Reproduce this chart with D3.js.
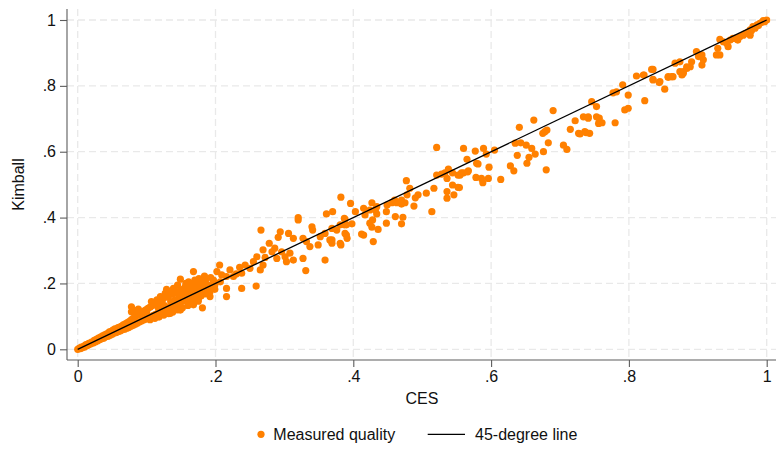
<!DOCTYPE html>
<html>
<head>
<meta charset="utf-8">
<script src="https://cdn.jsdelivr.net/npm/d3@7"></script>
<style>
  html, body { margin: 0; padding: 0; background: #fff; }
  svg { display: block; font-family: "Liberation Sans", Arial, Helvetica, sans-serif; }
</style>
</head>
<body>
<svg id="chart" width="776" height="450"></svg>
<script>
// Axis ticks and labels
const xTicks = [0, 0.2, 0.4, 0.6, 0.8, 1];
const xTickLabels = ["0", ".2", ".4", ".6", ".8", "1"];
const yTicks = [0, 0.2, 0.4, 0.6, 0.8, 1];
const yTickLabels = ["0", ".2", ".4", ".6", ".8", "1"];
const xTitle = "CES";
const yTitle = "Kimball";
const legendLabels = ["Measured quality", "45-degree line"];

// Reference line endpoints (CES = Kimball)
const diagonal = [0, 1];

// Measured quality: [CES, Kimball] pairs, low range
const measuredLow = [
  [0.000,0.000],[0.002,0.003],[0.004,0.002],[0.005,0.007],[0.007,0.005],[0.009,0.010],[0.010,0.007],
  [0.012,0.014],[0.013,0.011],[0.015,0.013],[0.016,0.018],[0.018,0.015],[0.020,0.022],[0.021,0.018],
  [0.023,0.020],[0.024,0.027],[0.026,0.023],[0.027,0.030],[0.029,0.026],[0.030,0.034],[0.032,0.029],
  [0.033,0.037],[0.035,0.032],[0.036,0.041],[0.038,0.034],[0.039,0.044],[0.041,0.038],[0.042,0.047],
  [0.044,0.040],[0.045,0.050],[0.047,0.043],[0.048,0.054],[0.050,0.046],[0.051,0.058],[0.053,0.049],
  [0.054,0.062],[0.056,0.051],[0.057,0.060],[0.059,0.054],[0.060,0.067],[0.062,0.056],[0.063,0.070],
  [0.065,0.059],[0.066,0.074],[0.068,0.061],[0.069,0.077],[0.071,0.064],[0.072,0.081],[0.074,0.066],
  [0.075,0.085],[0.077,0.070],[0.078,0.090],[0.080,0.072],[0.081,0.095],[0.083,0.075],[0.084,0.100],
  [0.086,0.078],[0.087,0.104],[0.089,0.082],[0.090,0.108],[0.092,0.085],[0.093,0.112],[0.095,0.088],
  [0.096,0.116],[0.098,0.091],[0.099,0.120],[0.101,0.094],[0.102,0.124],[0.104,0.097],[0.105,0.128],
  [0.107,0.100],[0.108,0.132],[0.110,0.103],[0.111,0.136],[0.113,0.106],[0.114,0.140],[0.116,0.109],
  [0.117,0.126],[0.119,0.112],[0.120,0.145],[0.122,0.115],[0.123,0.150],[0.125,0.118],[0.126,0.133],
  [0.128,0.121],[0.129,0.158],[0.131,0.124],[0.132,0.162],[0.134,0.128],[0.135,0.145],[0.137,0.131],
  [0.138,0.168],[0.140,0.134],[0.141,0.150],[0.143,0.138],[0.144,0.175],[0.146,0.141],[0.147,0.160],
  [0.149,0.130],[0.150,0.180],[0.152,0.146],[0.153,0.165],[0.155,0.150],[0.156,0.190],[0.158,0.154],
  [0.159,0.172],[0.161,0.140],[0.162,0.195],[0.164,0.160],[0.165,0.178],[0.167,0.150],[0.168,0.200],
  [0.170,0.165],[0.171,0.185],[0.173,0.158],[0.174,0.192],[0.176,0.170],[0.177,0.205],[0.179,0.162],
  [0.180,0.188],[0.182,0.175],[0.183,0.198],[0.185,0.168],[0.186,0.212],[0.188,0.180],[0.190,0.195],
  [0.192,0.175],[0.193,0.218],[0.195,0.188],[0.197,0.205],[0.199,0.182],
  [0.078,0.129],[0.078,0.114],[0.082,0.118],[0.085,0.112],[0.088,0.122],[0.105,0.090],[0.112,0.094],
  [0.118,0.098],[0.125,0.104],[0.132,0.108],[0.138,0.113],[0.145,0.120],[0.152,0.126],[0.160,0.133],
  [0.168,0.140],[0.175,0.146],[0.107,0.145],[0.115,0.150],[0.120,0.160],[0.122,0.119],[0.134,0.109],
  [0.129,0.182],[0.141,0.175],[0.153,0.182],[0.182,0.190],[0.192,0.160],[0.181,0.126],[0.175,0.152],
  [0.168,0.135],[0.149,0.119],[0.146,0.140],[0.149,0.213],[0.161,0.205],[0.178,0.205],[0.168,0.236],
  [0.135,0.170],[0.139,0.185],[0.145,0.195],[0.157,0.200],[0.163,0.185],[0.170,0.210],[0.176,0.215],
  [0.184,0.222],[0.155,0.172],[0.127,0.170],[0.119,0.135],[0.100,0.110],[0.094,0.101],[0.070,0.072],
  [0.064,0.066],[0.058,0.065],[0.046,0.053],[0.040,0.041],[0.034,0.035]
];

// Measured quality: middle range
const measuredMid = [
  [0.361,0.411],[0.387,0.398],[0.320,0.393],[0.320,0.400],[0.390,0.378],[0.369,0.367],[0.359,0.352],
  [0.340,0.372],[0.341,0.362],[0.352,0.342],[0.390,0.347],[0.381,0.322],[0.366,0.332],[0.369,0.322],
  [0.349,0.317],[0.337,0.312],[0.327,0.337],[0.332,0.327],[0.306,0.352],[0.313,0.337],[0.294,0.357],
  [0.291,0.340],[0.266,0.362],[0.278,0.322],[0.269,0.302],[0.282,0.296],[0.286,0.307],[0.296,0.296],
  [0.301,0.281],[0.308,0.292],[0.313,0.271],[0.303,0.266],[0.289,0.276],[0.327,0.276],[0.359,0.271],
  [0.331,0.239],[0.272,0.279],[0.269,0.256],[0.260,0.281],[0.255,0.266],[0.265,0.241],[0.259,0.192],
  [0.243,0.256],[0.250,0.246],[0.235,0.249],[0.238,0.231],[0.230,0.229],[0.221,0.241],[0.226,0.221],
  [0.216,0.221],[0.206,0.256],[0.202,0.236],[0.209,0.226],[0.197,0.210],[0.207,0.205],[0.199,0.195],
  [0.216,0.185],[0.238,0.185],[0.187,0.195],[0.182,0.205],[0.190,0.180],[0.216,0.160],
  [0.521,0.613],[0.579,0.565],[0.567,0.542],[0.557,0.536],[0.552,0.529],[0.538,0.547],[0.533,0.536],
  [0.528,0.532],[0.521,0.529],[0.536,0.519],[0.552,0.492],[0.536,0.479],[0.536,0.459],[0.517,0.489],
  [0.506,0.474],[0.494,0.469],[0.490,0.460],[0.488,0.435],[0.477,0.512],[0.482,0.489],[0.478,0.469],
  [0.470,0.453],[0.463,0.445],[0.470,0.441],[0.475,0.445],[0.460,0.453],[0.456,0.445],[0.472,0.401],
  [0.470,0.381],[0.461,0.403],[0.514,0.418],[0.449,0.438],[0.448,0.418],[0.448,0.383],[0.434,0.433],
  [0.434,0.411],[0.432,0.423],[0.427,0.445],[0.424,0.423],[0.428,0.393],[0.424,0.383],[0.436,0.364],
  [0.427,0.371],[0.429,0.327],[0.417,0.408],[0.415,0.428],[0.403,0.418],[0.396,0.443],[0.382,0.462],
  [0.370,0.418],[0.388,0.395],[0.398,0.381],[0.387,0.378],[0.381,0.378],[0.376,0.362],[0.388,0.352],
  [0.391,0.337],[0.412,0.350],[0.415,0.347],[0.369,0.332],[0.382,0.317]
];

// Measured quality: upper range
const measuredHigh = [
  [0.756,0.686],[0.741,0.702],[0.722,0.694],[0.715,0.668],[0.727,0.656],[0.738,0.658],[0.690,0.725],
  [0.662,0.696],[0.678,0.661],[0.681,0.666],[0.675,0.656],[0.641,0.674],[0.683,0.627],[0.705,0.620],
  [0.710,0.607],[0.676,0.600],[0.664,0.593],[0.659,0.610],[0.651,0.620],[0.643,0.627],[0.635,0.626],
  [0.655,0.583],[0.652,0.565],[0.638,0.589],[0.680,0.545],[0.628,0.557],[0.633,0.542],[0.614,0.516],
  [0.605,0.605],[0.597,0.553],[0.589,0.610],[0.593,0.593],[0.577,0.602],[0.560,0.610],[0.565,0.577],
  [0.581,0.563],[0.566,0.539],[0.555,0.529],[0.560,0.536],[0.578,0.522],[0.586,0.519],[0.596,0.519],
  [0.588,0.506],[0.544,0.536],[0.544,0.499],[0.554,0.491],[0.546,0.469],
  [0.901,0.889],[0.884,0.858],[0.879,0.838],[0.874,0.843],[0.862,0.828],[0.857,0.828],[0.844,0.810],
  [0.835,0.820],[0.833,0.850],[0.821,0.833],[0.811,0.830],[0.791,0.803],[0.799,0.772],[0.782,0.782],
  [0.777,0.779],[0.746,0.752],[0.799,0.732],[0.794,0.727],[0.753,0.737],[0.753,0.706],[0.757,0.702],
  [0.761,0.688],[0.741,0.706],[0.734,0.706],[0.780,0.688],[0.736,0.661],[0.743,0.656],[0.729,0.654],
  [1.000,1.000],[0.995,0.998],[0.990,0.990],[0.986,0.985],[0.980,0.980],[0.976,0.970],[0.971,0.960],
  [0.976,0.954],[0.966,0.954],[0.961,0.949],[0.958,0.939],[0.947,0.939],[0.942,0.929],[0.937,0.934],
  [0.932,0.941],[0.944,0.919],[0.929,0.914],[0.927,0.894],[0.932,0.894],[0.906,0.894],[0.898,0.904],
  [0.908,0.879],[0.906,0.863],[0.891,0.873],[0.889,0.858],[0.874,0.873],[0.867,0.869],[0.884,0.853],
  [0.879,0.843],[0.877,0.833],[0.864,0.828],[0.857,0.826],[0.835,0.850],[0.835,0.818],[0.845,0.813],
  [0.822,0.833],[0.852,0.790],[0.823,0.755],
  [0.997,0.995],[0.993,0.993],[0.988,0.983],[0.983,0.975],[0.978,0.968],[0.973,0.963],[0.968,0.958],
  [0.955,0.945],[0.951,0.944]
];

const measured = measuredLow.concat(measuredMid, measuredHigh);

// Layout
const W = 776, H = 450;
const plot = { left: 67, top: 9, right: 776, bottom: 360 };
const orange = "#ff8000";
const axisGrey = "#5c5c5c";
const gridGrey = "#e9e9e9";
const fontSize = 16;

const svg = d3.select("#chart");
svg.append("rect").attr("width", W).attr("height", H).attr("fill", "#fff");

const x = d3.scaleLinear().domain([0, 1]).range([77.7, 766.7]);
const y = d3.scaleLinear().domain([0, 1]).range([349.3, 20]);

// Dashed grid
const grid = svg.append("g").attr("stroke", gridGrey).attr("stroke-width", 1.3)
  .attr("stroke-dasharray", "7,4");
grid.selectAll("line.h").data(yTicks).join("line")
  .attr("x1", plot.left).attr("x2", plot.right)
  .attr("y1", d => y(d)).attr("y2", d => y(d));
grid.selectAll("line.v").data(xTicks).join("line")
  .attr("x1", d => x(d)).attr("x2", d => x(d))
  .attr("y1", plot.top).attr("y2", plot.bottom);

// Scatter points
svg.append("g").selectAll("circle").data(measured).join("circle")
  .attr("cx", d => x(d[0])).attr("cy", d => y(d[1]))
  .attr("r", 3.6).attr("fill", orange);

// 45-degree line
svg.append("line")
  .attr("x1", x(diagonal[0])).attr("y1", y(diagonal[0]))
  .attr("x2", x(diagonal[1])).attr("y2", y(diagonal[1]))
  .attr("stroke", "#000").attr("stroke-width", 1.3);

// Axes
const yAxis = d3.axisLeft(y).tickValues(yTicks)
  .tickFormat((d, i) => yTickLabels[i]).tickSize(7).tickPadding(4);
const xAxis = d3.axisBottom(x).tickValues(xTicks)
  .tickFormat((d, i) => xTickLabels[i]).tickSize(7).tickPadding(4);

const gy = svg.append("g").attr("transform", `translate(${plot.left},0)`).call(yAxis);
const gx = svg.append("g").attr("transform", `translate(0,${plot.bottom})`).call(xAxis);
[gy, gx].forEach(g => {
  g.select(".domain").remove();
  g.selectAll(".tick line").attr("stroke", axisGrey).attr("stroke-width", 1.1);
  g.selectAll(".tick text").attr("font-size", fontSize).attr("fill", "#111")
    .attr("font-family", "'Liberation Sans', Arial, sans-serif");
});

svg.append("line").attr("x1", plot.left).attr("x2", plot.left)
  .attr("y1", plot.top).attr("y2", plot.bottom)
  .attr("stroke", axisGrey).attr("stroke-width", 1.1);
svg.append("line").attr("x1", plot.left).attr("x2", plot.right)
  .attr("y1", plot.bottom).attr("y2", plot.bottom)
  .attr("stroke", axisGrey).attr("stroke-width", 1.1);

// Axis titles
svg.append("text").attr("x", (plot.left + plot.right) / 2 + 0.5).attr("y", 404)
  .attr("text-anchor", "middle").attr("font-size", fontSize).attr("fill", "#111").text(xTitle);
svg.append("text").attr("transform", `translate(24,${(plot.top + plot.bottom) / 2}) rotate(-90)`)
  .attr("text-anchor", "middle").attr("font-size", fontSize).attr("fill", "#111").text(yTitle);

// Legend
const legend = svg.append("g");
legend.append("circle").attr("cx", 261).attr("cy", 434.3).attr("r", 3.6).attr("fill", orange);
legend.append("text").attr("x", 273.3).attr("y", 440).attr("font-size", fontSize).attr("fill", "#111")
  .text(legendLabels[0]);
legend.append("line").attr("x1", 427.7).attr("x2", 465).attr("y1", 434.3).attr("y2", 434.3)
  .attr("stroke", "#000").attr("stroke-width", 1.3);
legend.append("text").attr("x", 475).attr("y", 440).attr("font-size", fontSize).attr("fill", "#111")
  .text(legendLabels[1]);
</script>
</body>
</html>
